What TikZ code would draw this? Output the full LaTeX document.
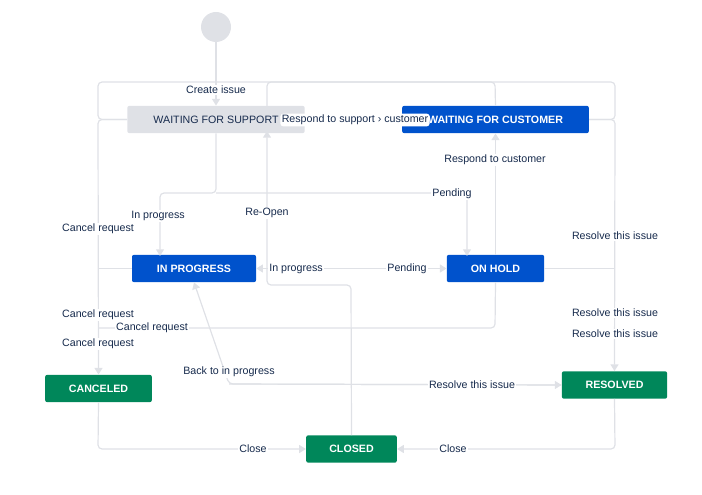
\documentclass[tikz,border=0pt]{standalone}
\usepackage{fontspec}
\setmainfont{Liberation Sans}
\usetikzlibrary{arrows.meta}
\definecolor{ln}{HTML}{DFE1E6}
\definecolor{jblue}{HTML}{0052CC}
\definecolor{jgreen}{HTML}{00875A}
\definecolor{txt}{HTML}{172B4D}
\begin{document}
\begin{tikzpicture}[x=0.75pt,y=-0.75pt,
  st/.style={rounded corners=1.5pt,minimum height=20.5pt,font=\fontsize{8}{9}\selectfont\bfseries,text=white,inner sep=0pt},
  bl/.style={st,fill=jblue},
  gr/.style={st,fill=jgreen},
  gy/.style={st,fill=ln,text=txt,font=\fontsize{8}{9}\selectfont},
  lk/.style={draw=ln,line width=0.9pt,rounded corners=3pt},
  ar/.style={-{Triangle[length=5pt,width=6pt]}},
  lb/.style={fill=white,inner sep=1pt,font=\fontsize{8}{9}\selectfont,text=txt}]
\useasboundingbox (0,0) rectangle (702,495);
\node[circle,fill=ln,minimum size=22.5pt,inner sep=0pt] (start) at (216,27) {};
\node[gy,minimum width=133pt] (wfs) at (216,119.5) {WAITING FOR SUPPORT};
\node[bl,minimum width=140pt] (wfc) at (495.5,119.5) {WAITING FOR CUSTOMER};
\node[bl,minimum width=93pt] (ip) at (194,268.5) {IN PROGRESS};
\node[bl,minimum width=73pt] (oh) at (495.5,268.5) {ON HOLD};
\node[gr,minimum width=80pt] (can) at (98.5,388.5) {CANCELED};
\node[gr,minimum width=79pt] (res) at (614.5,385) {RESOLVED};
\node[gr,minimum width=68pt] (clo) at (351.5,449) {CLOSED};
% outer frame
\draw[lk] (wfs.west) -- (98,119.5) -- (98,82) -- (615,82) -- (615,119.5) -- (wfc.east);
\draw[lk,ar] (wfs.west) -- (98,119.5) -- (can.north);
\draw[lk] (ip.west) -- (98,268.5);
\draw[lk,ar] (wfc.east) -- (615,119.5) -- (res.north);
\draw[lk] (oh.east) -- (615,268.5);
\draw[lk] (oh.south) -- (495,328) -- (98,328);
\draw[lk,ar] (can.south) -- (98,449) -- (clo.west);
\draw[lk,ar] (res.south) -- (615,449) -- (clo.east);
% create
\draw[lk,ar] (start) -- (wfs.north);
% wfc top loop
\draw[lk] (wfc.north) -- (495,82) -- (267,82) -- (267,109);
% reopen
\draw[lk,ar] (clo.north) -- (351,285) -- (267,285) -- (267,131);
% ip - oh
\draw[lk,ar] (267,268.5) -- (ip.east);
\draw[lk,ar] (267,268.5) -- (oh.west);
% wfs down
\draw[lk,ar] (wfs.south) -- (216,193) -- (160,193) -- (160,256);
\draw[lk,ar] (216,193) -- (467,193) -- (467,256);
% oh to wfc
\draw[lk,ar] (oh.north) -- (wfc.south);
% back/resolve
\draw[lk,ar] (229,384) -- (res.west);
\draw[lk,ar] (res.west) -- (229,384) -- (ip.south);
% respond to support/customer
\draw[lk,ar] (wfs.east) -- (wfc.west);
% labels
\node[lb] at (216,90) {Create issue};
\node[lb,rounded corners=2pt] at (355,120) {Respond to support › customer};
\node[lb] at (495,160) {Respond to customer};
\node[lb] at (452,194) {Pending};
\node[lb] at (158,216) {In progress};
\node[lb] at (267,213) {Re-Open};
\node[lb] at (98,229) {Cancel request};
\node[lb] at (296,269) {In progress};
\node[lb] at (407,269) {Pending};
\node[lb] at (615,236) {Resolve this issue};
\node[lb] at (98,315) {Cancel request};
\node[lb] at (152,328) {Cancel request};
\node[lb] at (98,344) {Cancel request};
\node[lb] at (615,313) {Resolve this issue};
\node[lb] at (615,334) {Resolve this issue};
\node[lb] at (229,372) {Back to in progress};
\node[lb] at (472,385) {Resolve this issue};
\node[lb] at (253,449) {Close};
\node[lb] at (453,449) {Close};
\end{tikzpicture}
\end{document}
